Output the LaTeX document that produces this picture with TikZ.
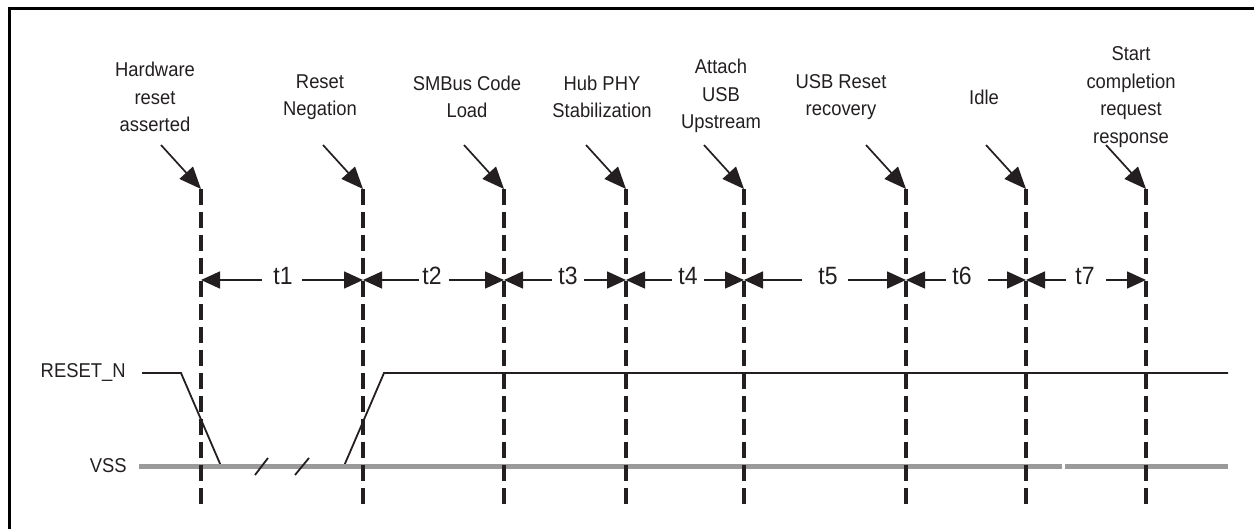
\documentclass[tikz,border=0pt]{standalone}
\usepackage{fontspec}
\setmainfont{Liberation Sans}[FakeStretch=0.92]
\usetikzlibrary{arrows.meta}
\definecolor{ink}{HTML}{231F20}
\definecolor{vssgray}{HTML}{9A9A9A}
\begin{document}
\begin{tikzpicture}[x=0.5pt,y=-0.5pt,
  lbl/.style={font=\fontsize{10pt}{13.75pt}\selectfont, text=ink, align=center, inner sep=0pt},
  tlbl/.style={font=\fontsize{12.5pt}{14pt}\selectfont, text=ink, inner sep=0pt},
  marker/.style={draw=ink, line width=1.6pt, dash pattern=on 8pt off 3.5pt},
  pointer/.style={draw=ink, line width=0.85pt, -{Triangle[length=11pt,width=9pt]}},
  span/.style={draw=ink, line width=0.8pt, -{Triangle[length=9.5pt,width=8.5pt]}},
  signal/.style={draw=ink, line width=0.9pt},
  ground/.style={draw=vssgray, line width=2.5pt}]
\useasboundingbox (0,0) rectangle (1254,529);
% frame
\draw[line width=1.5pt, black] (9,529) -- (9,9) -- (1254,9);

% marker positions
\foreach \n/\x in {a/201,b/363,c/504,d/626,e/744,f/906,g/1026,h/1146}{
  \coordinate (\n top) at (\x,189);
  \coordinate (\n bot) at (\x,505);
  \coordinate (\n src) at (\x-40,145);
  \coordinate (\n mid) at (\x,280);
}

% labels
\node[lbl] (la) at (155,97) {Hardware\\reset\\asserted};
\node[lbl] (lb) at (320,97) {Reset\\Negation};
\node[lbl] (lc) at (467,97) {SMBus Code\\Load};
\node[lbl] (ld) at (602,97) {Hub PHY\\Stabilization};
\node[lbl] (le) at (721,96) {Attach\\USB\\Upstream};
\node[lbl] (lf) at (841,97) {USB Reset\\recovery};
\node[lbl] (lg) at (984,97) {Idle};
\node[lbl] (lh) at (1131,97) {Start\\completion\\request\\response};

% signal
\node[lbl, anchor=east] (rn) at (126,373) {RESET\_N};
\node[lbl, anchor=east] (vss) at (127,466) {VSS};
\coordinate (r0) at (142,373);
\coordinate (r1) at (181,373);
\coordinate (r2) at (221,466);
\coordinate (r3) at (344,466);
\coordinate (r4) at (384,373);
\coordinate (r5) at (1228,373);
\draw[signal] (r0) -- (r1) -- (r2) -- (r3) -- (r4) -- (r5);
\coordinate (v0) at (139,466);
\coordinate (v1) at (1062,466);
\coordinate (v2) at (1065,466);
\coordinate (v3) at (1228,466);
\draw[ground] (v0) -- (v1);
\draw[ground] (v2) -- (v3);
% break marks
\coordinate (s1a) at (255,475); \coordinate (s1b) at (268,458);
\coordinate (s2a) at (295,475); \coordinate (s2b) at (309,458);
\draw[signal] (s1a) -- (s1b);
\draw[signal] (s2a) -- (s2b);

% dashed markers and pointers
\foreach \n in {a,b,c,d,e,f,g,h}{
  \draw[marker] (\n top) -- (\n bot);
  \draw[pointer] (\n src) -- (\n top);
}

% time spans
\foreach \l/\r/\t/\tx/\le/\rs in {a/b/t1/283/262/302, b/c/t2/432/419/449, c/d/t3/568/552/584, d/e/t4/688/672/704, e/f/t5/828/802/848, f/g/t6/962/946/988, g/h/t7/1085/1066/1106}{
  \node[tlbl] (\t) at (\tx,276) {\t};
  \coordinate (\t L) at (\le,280);
  \coordinate (\t R) at (\rs,280);
  \draw[span] (\t L) -- (\l mid);
  \draw[span] (\t R) -- (\r mid);
}
\end{tikzpicture}
\end{document}
